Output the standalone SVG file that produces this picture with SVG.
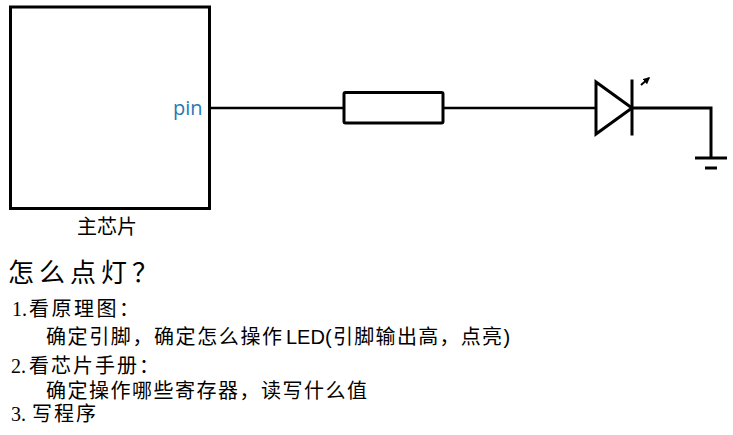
<svg xmlns="http://www.w3.org/2000/svg" width="733" height="435" viewBox="0 0 733 435">
<style>
.ln{fill:none;stroke:#000;stroke-width:3;stroke-linecap:square}
.cjk{font-family:"Noto Sans CJK SC",sans-serif;fill:#000}
.ser{font-family:"Liberation Serif","Noto Sans CJK SC",serif;fill:#000}
.lat{font-family:"Liberation Sans",Arial,sans-serif;fill:#000}
</style>
<defs>
<marker id="ah" viewBox="0 0 10 10" refX="8" refY="5" markerWidth="3.5" markerHeight="3.5" orient="auto">
<path d="M0,0 L10,5 L0,10 Z" fill="#000"/>
</marker>
</defs>
<rect width="733" height="435" fill="#fff"/>
<g id="chip">
<rect x="10.5" y="7" width="199" height="201.5" class="ln"/>
<text x="173" y="115" font-family="'Open Sans',sans-serif" font-size="20" fill="#2a77b4">pin</text>
<text x="77" y="234" class="cjk" font-size="20">主芯片</text>
</g>
<g id="resistor">
<rect x="344" y="92.5" width="99" height="30.5" rx="1.5" class="ln"/>
</g>
<g id="led">
<path d="M596,82 L596,134 L632,108 Z" class="ln" stroke-width="2" stroke-linejoin="miter"/>
<line x1="632" y1="81" x2="632" y2="134" class="ln" stroke-width="2" stroke-linecap="butt"/>
<line x1="641" y1="85" x2="649" y2="78" stroke="#000" stroke-width="2" marker-end="url(#ah)"/>
</g>
<g id="ground">
<line x1="695" y1="158" x2="727" y2="158" stroke="#000" stroke-width="3"/>
<line x1="705" y1="168" x2="717" y2="168" stroke="#000" stroke-width="3"/>
</g>
<g id="connectors">
<line x1="210" y1="108" x2="344" y2="108" stroke="#000" stroke-width="2.5"/>
<line x1="443" y1="108" x2="596" y2="108" stroke="#000" stroke-width="2.5"/>
<polyline points="632,108 711,108 711,158" fill="none" stroke="#000" stroke-width="3"/>
</g>
<g id="notes">
<text x="8" y="282" class="cjk" font-size="26" letter-spacing="5">怎么点灯？</text>
<text y="316" font-size="20"><tspan x="12" class="ser">1.</tspan><tspan x="29" class="cjk" letter-spacing="2.5">看原理图：</tspan></text>
<text y="344" font-size="20"><tspan x="46" class="cjk" letter-spacing="1.6">确定引脚，确定怎么操作</tspan><tspan x="286" class="lat">LED(</tspan><tspan x="333" class="cjk" letter-spacing="1.3">引脚输出高，点亮</tspan><tspan class="lat">)</tspan></text>
<text y="373" font-size="20"><tspan x="11" class="ser">2.</tspan><tspan x="29" class="cjk" letter-spacing="2">看芯片手册：</tspan></text>
<text x="46" y="398" class="cjk" font-size="20" letter-spacing="1.5">确定操作哪些寄存器，读写什么值</text>
<text y="421" font-size="20"><tspan x="11" class="ser">3.</tspan><tspan x="32" class="cjk" letter-spacing="2">写程序</tspan></text>
</g>
</svg>
